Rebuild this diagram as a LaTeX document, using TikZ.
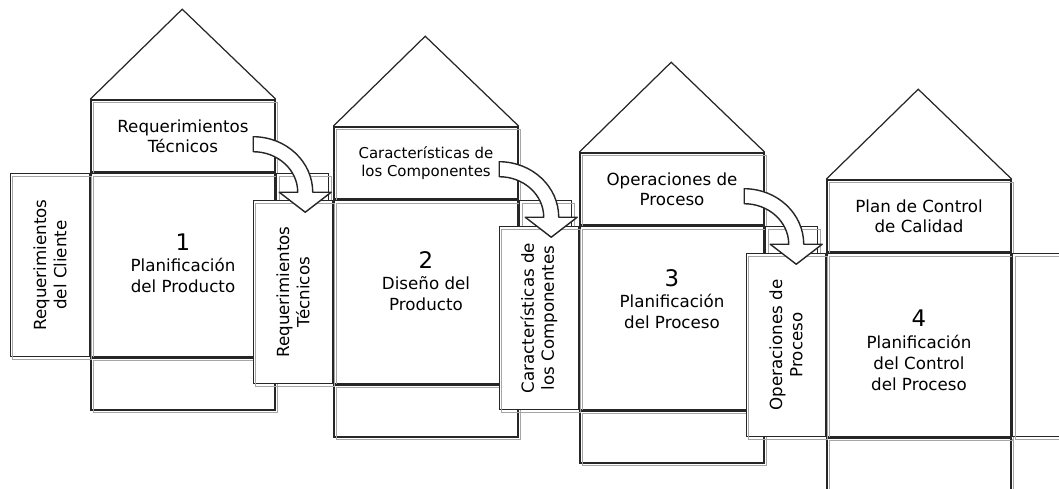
\documentclass[tikz,border=0pt]{standalone}
\usepackage{fontspec}
\setmainfont{DejaVu Sans}
\usetikzlibrary{positioning}

\begin{document}
\begin{tikzpicture}[x=0.02cm, y=-0.02cm,
		part/.style={draw=black!85, line width=0.9pt, fill=white, inner sep=0pt,
			postaction={draw=black!35, line width=0.5pt, transform canvas={xshift=1.4pt, yshift=-1.4pt}}},
		topbox/.style={part, minimum width=3.68cm, minimum height=1.44cm, align=center, font=\fontsize{9.5}{11.5}\selectfont},
		mainbox/.style={part, minimum width=3.68cm, minimum height=3.66cm},
		basebox/.style={part, minimum width=3.68cm, minimum height=1.04cm},
		extbox/.style={part, minimum width=1.04cm, minimum height=3.66cm},
		sidebox/.style={part, rotate=90, anchor=south, minimum width=3.66cm, minimum height=1.58cm, align=center, font=\fontsize{9.5}{11.5}\selectfont},
		phase/.style={align=center, font=\fontsize{9.5}{12}\selectfont},
		num/.style={font=\fontsize{13}{15}\selectfont},
		roof/.style={draw=black!85, line width=0.7pt},
		bigarrow/.style={draw=black!85, line width=0.8pt, fill=white, line join=round}
		]
		\useasboundingbox (0,0) rectangle (1059,488);
		
		% House 1
		\node[topbox] (top1) at (183,136) {Requerimientos\\Técnicos};
		\draw[roof] (top1.north west) -- ++(92,-90) -- (top1.north east);
		\node[mainbox, below=0pt of top1] (main1) {};
		\node[basebox, below=0pt of main1] (base1) {};
		\node[extbox, right=0pt of main1] (ext1) {};
		\node[sidebox] (side1) at (main1.west) {Requerimientos\\del Cliente};
		\node[phase, yshift=1pt] (phase1) at (main1.center) {{\fontsize{13}{15}\selectfont 1}\\Planificación\\del Producto};
		
		% House 2
		\node[topbox, font=\fontsize{8.5}{10.5}\selectfont] (top2) at (426,163) {Características de\\los Componentes};
		\draw[roof] (top2.north west) -- ++(92,-90) -- (top2.north east);
		\node[mainbox, below=0pt of top2] (main2) {};
		\node[basebox, below=0pt of main2] (base2) {};
		\node[extbox, right=0pt of main2] (ext2) {};
		\node[sidebox] (side2) at (main2.west) {Requerimientos\\Técnicos};
		\node[phase, yshift=6pt] (phase2) at (main2.center) {{\fontsize{13}{15}\selectfont 2}\\Diseño del\\Producto};
		
		% House 3
		\node[topbox] (top3) at (672,189) {Operaciones de\\Proceso};
		\draw[roof] (top3.north west) -- ++(92,-90) -- (top3.north east);
		\node[mainbox, below=0pt of top3] (main3) {};
		\node[basebox, below=0pt of main3] (base3) {};
		\node[extbox, right=0pt of main3] (ext3) {};
		\node[sidebox] (side3) at (main3.west) {Características de\\los Componentes};
		\node[phase, yshift=11pt] (phase3) at (main3.center) {{\fontsize{13}{15}\selectfont 3}\\Planificación\\del Proceso};
		
		% House 4
		\node[topbox] (top4) at (919,216) {Plan de Control\\de Calidad};
		\draw[roof] (top4.north west) -- ++(92,-90) -- (top4.north east);
		\node[mainbox, below=0pt of top4] (main4) {};
		\node[basebox, below=0pt of main4] (base4) {};
		\node[extbox, right=0pt of main4] (ext4) {};
		\node[sidebox] (side4) at (main4.west) {Operaciones de\\Proceso};
		\node[phase, yshift=-3pt] (phase4) at (main4.center) {{\fontsize{13}{15}\selectfont 4}\\Planificación\\del Control\\del Proceso};
		
		% Arrows
		\coordinate (bend1) at ([shift={(163,93)}]top1.north west);
		\coordinate (bend2) at ([shift={(166,91)}]top2.north west);
		\coordinate (bend3) at ([shift={(165,92)}]top3.north west);
		\draw[bigarrow, shift={(bend1)}] (0,-55.5) arc[start angle=-90, end angle=0, x radius=59.5, y radius=55.5] -- (78,0) -- (52,20) -- (26,0) -- (44.5,0) arc[start angle=0, end angle=-90, x radius=44.5, y radius=40.5] -- cycle;
		\draw[bigarrow, shift={(bend2)}] (0,-55.5) arc[start angle=-90, end angle=0, x radius=59.5, y radius=55.5] -- (78,0) -- (52,20) -- (26,0) -- (44.5,0) arc[start angle=0, end angle=-90, x radius=44.5, y radius=40.5] -- cycle;
		\draw[bigarrow, shift={(bend3)}] (0,-55.5) arc[start angle=-90, end angle=0, x radius=59.5, y radius=55.5] -- (78,0) -- (52,20) -- (26,0) -- (44.5,0) arc[start angle=0, end angle=-90, x radius=44.5, y radius=40.5] -- cycle;
	\end{tikzpicture}
\end{document}
